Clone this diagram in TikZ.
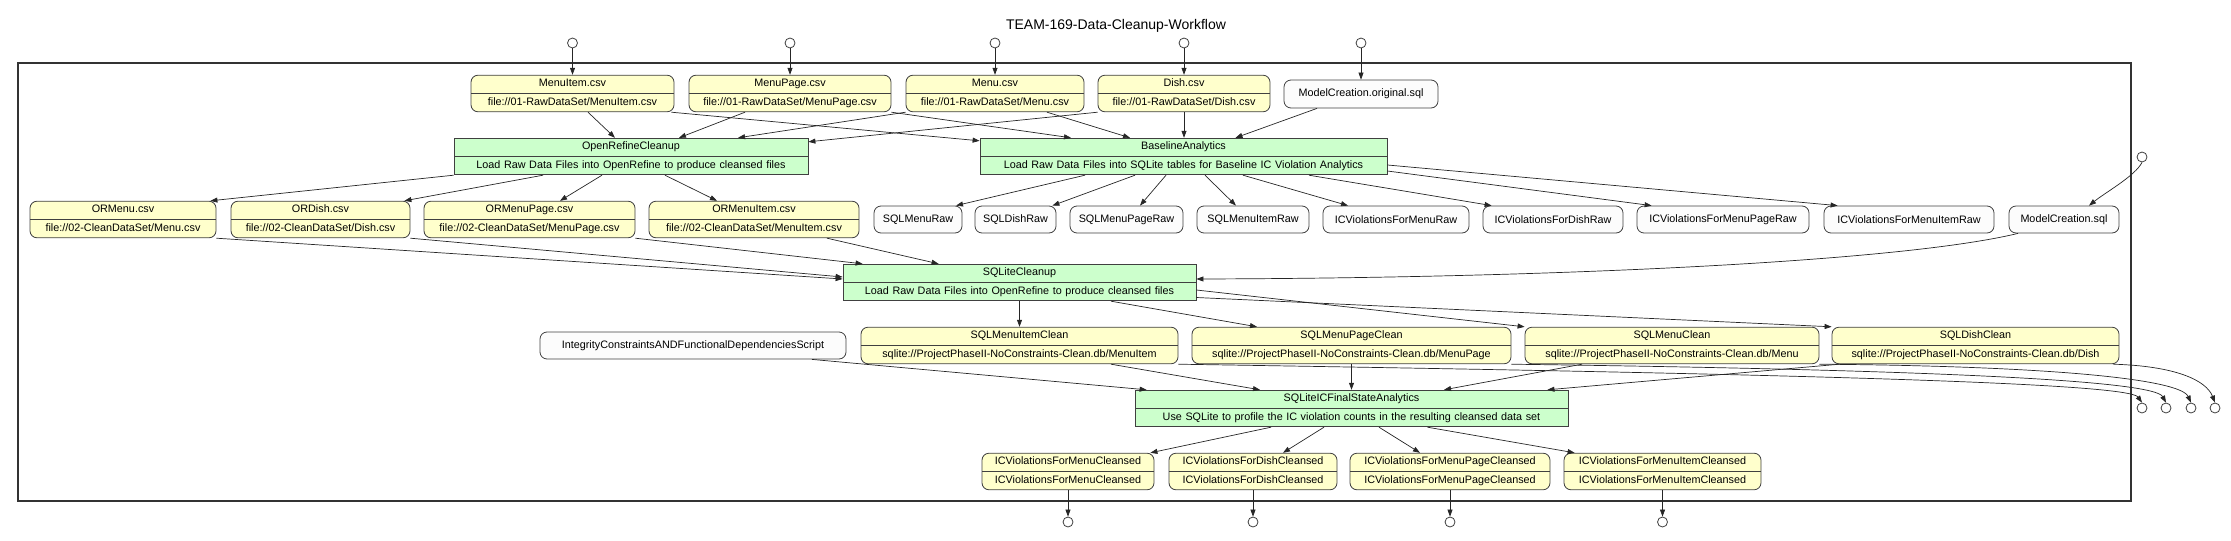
\documentclass[tikz,border=0pt]{standalone}
\usepackage{fontspec}
\setmainfont{Liberation Sans}
\usetikzlibrary{arrows.meta,shapes.multipart,calc}
\definecolor{yel}{HTML}{FFFFCC}
\definecolor{grn}{HTML}{CCFFCC}
\definecolor{wht}{HTML}{FCFCFC}
\definecolor{bord}{HTML}{404040}
\tikzset{
 base/.style={draw=bord, line width=0.8pt, inner xsep=0pt, font=\fontsize{10.8}{13}\selectfont},
 twopart/.style={base, rectangle split, rectangle split parts=2, inner ysep=2.25pt, align=center},
 yelbox/.style={twopart, fill=yel, rounded corners=7pt},
 grnbox/.style={twopart, fill=grn},
 whtbox/.style={base, fill=wht, rounded corners=7pt, minimum height=27pt, inner sep=0pt},
 port/.style={circle, draw=bord, fill=white, line width=0.8pt, minimum size=10pt, inner sep=0pt},
 arr/.style={draw=black!85, line width=0.7pt, -{Triangle[length=7pt,width=5pt]}},
 frame/.style={draw=black!80, line width=1.6pt},
}
\newcommand{\tp}[2]{\strut #1\nodepart{two}\strut #2}
\begin{document}
\begin{tikzpicture}[x=1pt,y=-1pt]
\useasboundingbox (0,0) rectangle (2231,541);
\draw[frame] (18,63) rectangle (2131,501);
\node[font=\fontsize{14}{16}\selectfont] (title) at (1116,26) {TEAM-169-Data-Cleanup-Workflow};

% ports
\node[port] (c1) at (572.5,43) {};
\node[port] (c2) at (790,43) {};
\node[port] (c3) at (995,43) {};
\node[port] (c4) at (1184,43) {};
\node[port] (c5) at (1361,43) {};
\node[port] (c6) at (2142,157) {};
\node[port] (r1) at (2142,408) {};
\node[port] (r2) at (2166,408) {};
\node[port] (r3) at (2191,408) {};
\node[port] (r4) at (2215,408) {};
\node[port] (b1) at (1068,522) {};
\node[port] (b2) at (1253,522) {};
\node[port] (b3) at (1450,522) {};
\node[port] (b4) at (1662.5,522) {};

% raw files
\node[yelbox, text width=203pt] (mi) at (572.5,93.5) {\tp{MenuItem.csv}{file://01-RawDataSet/MenuItem.csv}};
\node[yelbox, text width=202pt] (mp) at (790,93.5) {\tp{MenuPage.csv}{file://01-RawDataSet/MenuPage.csv}};
\node[yelbox, text width=178pt] (me) at (995,93.5) {\tp{Menu.csv}{file://01-RawDataSet/Menu.csv}};
\node[yelbox, text width=172pt] (di) at (1184,93.5) {\tp{Dish.csv}{file://01-RawDataSet/Dish.csv}};
\node[whtbox, minimum width=154pt, minimum height=28pt] (mco) at (1361,94) {ModelCreation.original.sql};

% steps
\node[grnbox, text width=354pt] (orc) at (631,156.5) {\tp{OpenRefineCleanup}{Load Raw Data Files into OpenRefine to produce cleansed files}};
\node[grnbox, text width=407pt] (ba) at (1183.5,156.5) {\tp{BaselineAnalytics}{Load Raw Data Files into SQLite tables for Baseline IC Violation Analytics}};

% OR files
\node[yelbox, text width=186pt] (orm) at (123,219.5) {\tp{ORMenu.csv}{file://02-CleanDataSet/Menu.csv}};
\node[yelbox, text width=179pt] (ord) at (320.5,219.5) {\tp{ORDish.csv}{file://02-CleanDataSet/Dish.csv}};
\node[yelbox, text width=211pt] (ormp) at (529.5,219.5) {\tp{ORMenuPage.csv}{file://02-CleanDataSet/MenuPage.csv}};
\node[yelbox, text width=210pt] (ormi) at (754,219.5) {\tp{ORMenuItem.csv}{file://02-CleanDataSet/MenuItem.csv}};

% raw tables
\node[whtbox, minimum width=88pt] (smr) at (918,219.5) {SQLMenuRaw};
\node[whtbox, minimum width=81pt] (sdr) at (1015.5,219.5) {SQLDishRaw};
\node[whtbox, minimum width=113pt] (smpr) at (1126.5,219.5) {SQLMenuPageRaw};
\node[whtbox, minimum width=112pt] (smir) at (1253,219.5) {SQLMenuItemRaw};
\node[whtbox, minimum width=146pt] (icmr) at (1396,219.5) {ICViolationsForMenuRaw};
\node[whtbox, minimum width=140pt] (icdr) at (1553,219.5) {ICViolationsForDishRaw};
\node[whtbox, minimum width=172pt] (icmpr) at (1723,219.5) {ICViolationsForMenuPageRaw};
\node[whtbox, minimum width=170pt] (icmir) at (1909,219.5) {ICViolationsForMenuItemRaw};
\node[whtbox, minimum width=110pt] (mcs) at (2064,219.5) {ModelCreation.sql};

% SQLite cleanup
\node[grnbox, text width=353pt] (slc) at (1019.5,282.5) {\tp{SQLiteCleanup}{Load Raw Data Files into OpenRefine to produce cleansed files}};

% clean tables
\node[whtbox, minimum width=306pt] (icfd) at (693,345.5) {IntegrityConstraintsANDFunctionalDependenciesScript};
\node[yelbox, text width=317pt] (smic) at (1019.5,345.5) {\tp{SQLMenuItemClean}{sqlite://ProjectPhaseII-NoConstraints-Clean.db/MenuItem}};
\node[yelbox, text width=319pt] (smpc) at (1351.5,345.5) {\tp{SQLMenuPageClean}{sqlite://ProjectPhaseII-NoConstraints-Clean.db/MenuPage}};
\node[yelbox, text width=294pt] (smc) at (1672,345.5) {\tp{SQLMenuClean}{sqlite://ProjectPhaseII-NoConstraints-Clean.db/Menu}};
\node[yelbox, text width=287pt] (sdc) at (1975.5,345.5) {\tp{SQLDishClean}{sqlite://ProjectPhaseII-NoConstraints-Clean.db/Dish}};

% final analytics
\node[grnbox, text width=433pt] (sfa) at (1351.5,408.5) {\tp{SQLiteICFinalStateAnalytics}{Use SQLite to profile the IC violation counts in the resulting cleansed data set}};

% cleansed outputs
\node[yelbox, text width=172pt] (icmc) at (1068,471.5) {\tp{ICViolationsForMenuCleansed}{ICViolationsForMenuCleansed}};
\node[yelbox, text width=168pt] (icdc) at (1253,471.5) {\tp{ICViolationsForDishCleansed}{ICViolationsForDishCleansed}};
\node[yelbox, text width=200pt] (icmpc) at (1450,471.5) {\tp{ICViolationsForMenuPageCleansed}{ICViolationsForMenuPageCleansed}};
\node[yelbox, text width=197pt] (icmic) at (1662.5,471.5) {\tp{ICViolationsForMenuItemCleansed}{ICViolationsForMenuItemCleansed}};

% edges: inputs
\draw[arr] (c1.south) -- (mi.north);
\draw[arr] (c2.south) -- (mp.north);
\draw[arr] (c3.south) -- (me.north);
\draw[arr] (c4.south) -- (di.north);
\draw[arr] (c5.south) -- (mco.north);

\draw[arr] ([xshift=15.5pt]mi.south) -- ([xshift=-16pt]orc.north);
\draw[arr] ([xshift=-3pt]mi.south east) -- ([yshift=-3pt]ba.north west);
\draw[arr] ([xshift=-45pt]mp.south) -- ([xshift=48pt]orc.north);
\draw[arr] (mp.south east) -- ([xshift=-112.5pt]ba.north);
\draw[arr] (me.south west) -- ([xshift=107pt]orc.north);
\draw[arr] ([xshift=52pt]me.south) -- ([xshift=-53.5pt]ba.north);
\draw[arr] (di.south west) -- ([yshift=-4pt]orc.north east);
\draw[arr] (di.south) -- (di.south |- ba.north);
\draw[arr] ([xshift=-44pt]mco.south) -- ([xshift=52pt]ba.north);

\draw[arr] (orc.south west) -- ([xshift=-6pt]orm.north east);
\draw[arr] ([xshift=-88pt]orc.south) -- ([xshift=-6pt]ord.north east);
\draw[arr] ([xshift=-29pt]orc.south) -- ([xshift=30.5pt]ormp.north);
\draw[arr] ([xshift=34pt]orc.south) -- ([xshift=-37pt]ormi.north);

\draw[arr] ([xshift=-98.5pt]ba.south) -- ([xshift=38pt]smr.north);
\draw[arr] ([xshift=-48.5pt]ba.south) -- ([xshift=-4pt]sdr.north east);
\draw[arr] ([xshift=-17.5pt]ba.south) -- ([xshift=13.5pt]smpr.north);
\draw[arr] ([xshift=21.5pt]ba.south) -- ([xshift=-17pt]smir.north);
\draw[arr] ([xshift=59.5pt]ba.south) -- ([xshift=-48pt]icmr.north);
\draw[arr] ([xshift=125.5pt]ba.south) -- ([xshift=9pt]icdr.north west);
\draw[arr] ([yshift=-14.5pt]ba.east) -- ([xshift=15pt]icmpr.north west);
\draw[arr] ([yshift=-8.5pt]ba.east) -- ([xshift=14pt]icmir.north west);

\draw[arr] (c6.south) .. controls (2135,176) and (2106,192) .. ([xshift=25pt]mcs.north);

% into SQLite cleanup
\draw[arr] (orm.south east) -- ([yshift=3.5pt]slc.west);
\draw[arr] (ord.south east) -- ([yshift=5.5pt]slc.west);
\draw[arr] (ormp.south east) -- ([xshift=20pt]slc.north west);
\draw[arr] ([xshift=73pt]ormi.south) -- ([xshift=96pt]slc.north west);
\draw[arr] ([xshift=-46pt]mcs.south) .. controls (1900,262) and (1550,278) .. ([yshift=3.5pt]slc.east);

\draw[arr] (slc.south) -- (smic.north);
\draw[arr] ([xshift=91.5pt]slc.south) -- ([xshift=-94.5pt]smpc.north);
\draw[arr] ([yshift=-7.5pt]slc.east) -- (smc.north west);
\draw[arr] ([yshift=-15pt]slc.east) -- (sdc.north west);

% into final analytics
\draw[arr] ([xshift=119pt]icfd.south) -- ([xshift=12pt]sfa.north west);
\draw[arr] ([xshift=91.5pt]smic.south) -- ([xshift=-91.5pt]sfa.north);
\draw[arr] (smpc.south) -- (sfa.north);
\draw[arr] ([xshift=-90pt]smc.south) -- ([xshift=92.5pt]sfa.north);
\draw[arr] ([xshift=8pt]sdc.south west) -- ([xshift=-21pt]sfa.north east);

% clean tables out to ports
\draw[arr] (smic.south east) .. controls (1800,374) and (2128,383) .. (r1.north);
\draw[arr] (smpc.south east) .. controls (1950,370) and (2154,381) .. (r2.north);
\draw[arr] (smc.south east) .. controls (2050,366) and (2180,379) .. (r3.north);
\draw[arr] ([xshift=-6pt]sdc.south east) .. controls (2175,366) and (2206,380) .. (r4.north);

% outputs
\draw[arr] ([xshift=-80.5pt]sfa.south) -- ([xshift=-4pt]icmc.north east);
\draw[arr] ([xshift=-27.5pt]sfa.south) -- ([xshift=30pt]icdc.north);
\draw[arr] ([xshift=27.5pt]sfa.south) -- ([xshift=-30pt]icmpc.north);
\draw[arr] ([xshift=76pt]sfa.south) -- ([xshift=11pt]icmic.north west);

\draw[arr] (icmc.south) -- (b1.north);
\draw[arr] (icdc.south) -- (b2.north);
\draw[arr] (icmpc.south) -- (b3.north);
\draw[arr] (icmic.south) -- (b4.north);
\end{tikzpicture}
\end{document}
